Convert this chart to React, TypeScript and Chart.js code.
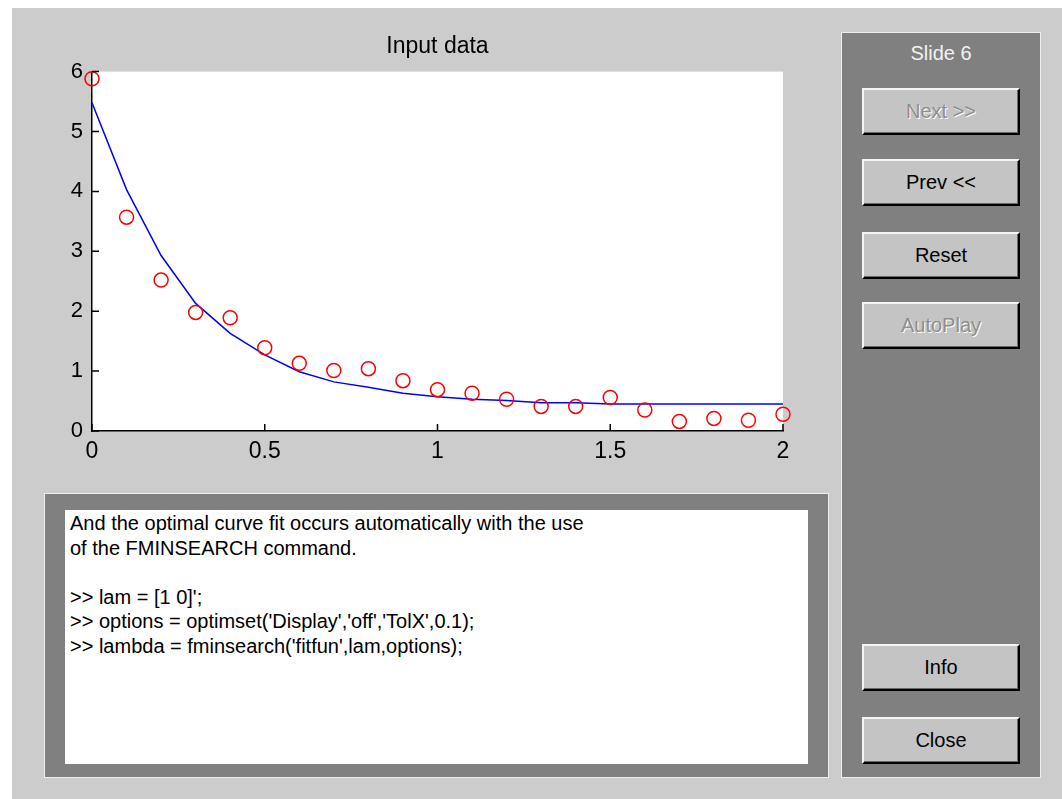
import React, { useEffect, useRef } from "react";
import { Chart, registerables } from "chart.js";

Chart.register(...registerables);

const xValues = [0, 0.1, 0.2, 0.3, 0.4, 0.5, 0.6, 0.7, 0.8, 0.9, 1.0, 1.1, 1.2, 1.3, 1.4, 1.5, 1.6, 1.7, 1.8, 1.9, 2.0];
const measured = [5.88, 3.57, 2.52, 1.98, 1.89, 1.39, 1.13, 1.01, 1.04, 0.84, 0.69, 0.63, 0.53, 0.41, 0.41, 0.56, 0.35, 0.16, 0.21, 0.18, 0.28];
const fitted = [5.48, 4.03, 2.93, 2.13, 1.63, 1.27, 0.99, 0.82, 0.73, 0.63, 0.57, 0.53, 0.51, 0.47, 0.47, 0.45, 0.45, 0.45, 0.45, 0.45, 0.45];
const xTicks = [0, 0.5, 1, 1.5, 2];
const yTicks = [0, 1, 2, 3, 4, 5, 6];
const titleText = "Input data";
const infoLines = [
  "And the optimal curve fit occurs automatically with the use",
  "of the FMINSEARCH command.",
  "",
  ">> lam = [1 0]';",
  ">> options = optimset('Display','off','TolX',0.1);",
  ">> lambda = fminsearch('fitfun',lam,options);",
];
const buttons = [
  { label: "Next >>", top: 88, disabled: true },
  { label: "Prev <<", top: 159, disabled: false },
  { label: "Reset", top: 232, disabled: false },
  { label: "AutoPlay", top: 302, disabled: true },
  { label: "Info", top: 644, disabled: false },
  { label: "Close", top: 717, disabled: false },
];

const FONT = "'Liberation Sans', Arial, sans-serif";

const bgPlugin = {
  id: "plotBg",
  beforeDraw(chart: any) {
    const { ctx, chartArea } = chart;
    ctx.save();
    ctx.fillStyle = "#ffffff";
    ctx.fillRect(chartArea.left, chartArea.top, chartArea.right - chartArea.left, chartArea.bottom - chartArea.top);
    ctx.restore();
  },
};

const inwardTicks = {
  id: "inwardTicks",
  afterDatasetsDraw(chart: any) {
    const { ctx, chartArea, scales } = chart;
    ctx.save();
    ctx.strokeStyle = "#000000";
    ctx.lineWidth = 1.5;
    ctx.beginPath();
    xTicks.forEach((v) => {
      const px = scales.x.getPixelForValue(v);
      ctx.moveTo(px, chartArea.bottom);
      ctx.lineTo(px, chartArea.bottom - 7);
    });
    yTicks.forEach((v) => {
      const py = scales.y.getPixelForValue(v);
      ctx.moveTo(chartArea.left, py);
      ctx.lineTo(chartArea.left + 7, py);
    });
    ctx.stroke();
    ctx.restore();
  },
};

function PlotCanvas() {
  const ref = useRef<HTMLCanvasElement>(null);
  useEffect(() => {
    if (!ref.current) return;
    const chart = new Chart(ref.current, {
      type: "scatter",
      data: {
        datasets: [
          {
            label: "measured",
            data: xValues.map((x, i) => ({ x, y: measured[i] })),
            showLine: false,
            pointStyle: "circle",
            pointRadius: 7,
            pointBorderWidth: 1.5,
            pointBorderColor: "#ff0000",
            pointBackgroundColor: "rgba(0,0,0,0)",
            clip: false,
            order: 0,
          },
          {
            label: "fit",
            data: xValues.map((x, i) => ({ x, y: fitted[i] })),
            showLine: true,
            borderColor: "#0000ff",
            borderWidth: 1.5,
            pointRadius: 0,
            tension: 0,
            clip: false,
            order: 1,
          } as any,
        ],
      },
      options: {
        animation: false,
        responsive: false,
        maintainAspectRatio: false,
        layout: { padding: { top: 0, right: 47, bottom: 0, left: 0 } },
        plugins: {
          legend: { display: false },
          tooltip: { enabled: false },
          title: {
            display: true,
            fullSize: false,
            text: titleText,
            color: "#000000",
            font: { family: FONT, size: 23, weight: "normal" },
            padding: { top: 25, bottom: 11 },
          },
        },
        scales: {
          x: {
            type: "linear",
            min: 0,
            max: 2,
            afterBuildTicks(scale: any) {
              scale.ticks = xTicks.map((v) => ({ value: v }));
            },
            afterFit(scale: any) {
              scale.height = 52;
            },
            grid: { display: true, drawOnChartArea: false, drawTicks: false },
            border: { display: true, color: "#000000", width: 1.5 },
            ticks: {
              color: "#000000",
              font: { family: FONT, size: 23 },
              padding: 7,
              maxRotation: 0,
              autoSkip: false,
              callback: (v: any) => String(v),
            },
          },
          y: {
            type: "linear",
            min: 0,
            max: 6,
            afterBuildTicks(scale: any) {
              scale.ticks = yTicks.map((v) => ({ value: v }));
            },
            afterFit(scale: any) {
              scale.width = 80;
            },
            grid: { display: true, drawOnChartArea: false, drawTicks: false },
            border: { display: true, color: "#000000", width: 1.5 },
            ticks: {
              color: "#000000",
              font: { family: FONT, size: 22 },
              padding: 9,
              autoSkip: false,
              callback: (v: any) => String(v),
            },
          },
        },
      },
      plugins: [bgPlugin, inwardTicks],
    });
    return () => chart.destroy();
  }, []);
  return <canvas ref={ref} width={818} height={475} style={{ width: 818, height: 475, display: "block" }} />;
}

function Button({ label, top, disabled }: { label: string; top: number; disabled: boolean }) {
  return (
    <div
      style={{
        position: "absolute",
        left: 862,
        top,
        width: 158,
        height: 47,
        boxSizing: "border-box",
        background: "#c4c4c4",
        borderTop: "2px solid #f4f4f4",
        borderLeft: "2px solid #f4f4f4",
        borderRight: "2px solid #000000",
        borderBottom: "2px solid #000000",
        boxShadow: "inset -1px -1px 0 #6a6a6a",
        display: "flex",
        alignItems: "center",
        justifyContent: "center",
        fontFamily: FONT,
        fontSize: 20,
        color: disabled ? "#8e8e8e" : "#000000",
        textShadow: disabled ? "1px 1px 0 #ffffff" : "none",
      }}
    >
      {label}
    </div>
  );
}

export default function App() {
  return (
    <div style={{ position: "absolute", left: 0, top: 0, width: 1062, height: 799, background: "#ffffff", overflow: "hidden" }}>
      <div style={{ position: "absolute", left: 12, top: 8, width: 1050, height: 791, background: "#cccccc" }} />
      <div style={{ position: "absolute", left: 12, top: 8 }}>
        <PlotCanvas />
      </div>
      <div
        style={{
          position: "absolute",
          left: 44,
          top: 493,
          width: 785,
          height: 285,
          boxSizing: "border-box",
          background: "#808080",
          border: "1px solid #eeeeee",
        }}
      />
      <div
        style={{
          position: "absolute",
          left: 65,
          top: 510,
          width: 743,
          height: 254,
          background: "#ffffff",
          boxSizing: "border-box",
          padding: "1px 0 0 5px",
          fontFamily: FONT,
          fontSize: 20,
          lineHeight: "24.5px",
          color: "#000000",
          whiteSpace: "pre",
        }}
      >
        {infoLines.map((l, i) => (
          <div key={i} style={{ height: 24.5 }}>{l}</div>
        ))}
      </div>
      <div
        style={{
          position: "absolute",
          left: 841,
          top: 32,
          width: 200,
          height: 746,
          boxSizing: "border-box",
          background: "#808080",
          border: "1px solid #eeeeee",
        }}
      />
      <div
        style={{
          position: "absolute",
          left: 841,
          top: 41,
          width: 200,
          textAlign: "center",
          fontFamily: FONT,
          fontSize: 20,
          lineHeight: "24px",
          color: "#f2f2f2",
        }}
      >
        Slide 6
      </div>
      {buttons.map((b) => (
        <Button key={b.label} {...b} />
      ))}
    </div>
  );
}
